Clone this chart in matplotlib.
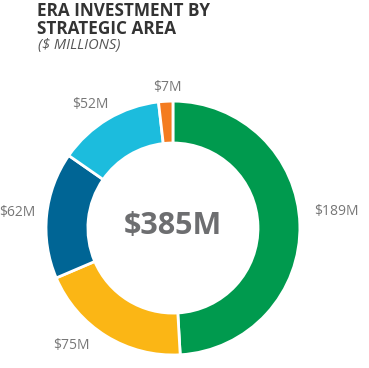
import matplotlib.pyplot as plt
import numpy as np

# ERA investment by strategic area ($ millions)
values = [189, 75, 62, 52, 7]
labels = ["$189M", "$75M", "$62M", "$52M", "$7M"]
colors = ["#009A4E", "#FBB615", "#006595", "#1CBCDD", "#F47C20"]
total_label = "$385M"

# label placement: radial distance and angular nudge (deg) per slice
label_dist = [1.29, 1.22, 1.23, 1.17, 1.11]
label_nudge = [4, -9, 0, 3, -1]

plt.rcParams['font.family'] = ['Open Sans', 'DejaVu Sans']

fig = plt.figure(figsize=(3.69, 3.68), dpi=100)
ax = fig.add_axes([0.1247, 0.0353, 0.688, 0.690])

wedges, _ = ax.pie(values, colors=colors, startangle=90, counterclock=False,
                   radius=1.0,
                   wedgeprops=dict(width=0.33, edgecolor="white", linewidth=2))
ax.set_xlim(-1, 1)
ax.set_ylim(-1, 1)
ax.set_aspect("equal")

# value labels outside the ring
for w, lab, d, n in zip(wedges, labels, label_dist, label_nudge):
    ang = np.deg2rad((w.theta1 + w.theta2) / 2 + n)
    ax.text(d * np.cos(ang), d * np.sin(ang), lab, ha="center", va="center",
            fontsize=10, color="#777777")

ax.text(0, 0.02, total_label, ha="center", va="center", fontsize=22,
        fontweight="bold", color="#6d6e70")

fig.text(37 / 369, 1 - 10.5 / 368, "ERA INVESTMENT BY", ha="left",
         va="center", fontsize=12.3, fontweight="bold", color="#333333")
fig.text(37 / 369, 1 - 28.5 / 368, "STRATEGIC AREA", ha="left",
         va="center", fontsize=12.3, fontweight="bold", color="#333333")
fig.text(38 / 369, 1 - 46 / 368, "($ MILLIONS)", ha="left", va="center",
         fontsize=10.5, style="italic", color="#555555")

fig.savefig("out.png", dpi=100)
